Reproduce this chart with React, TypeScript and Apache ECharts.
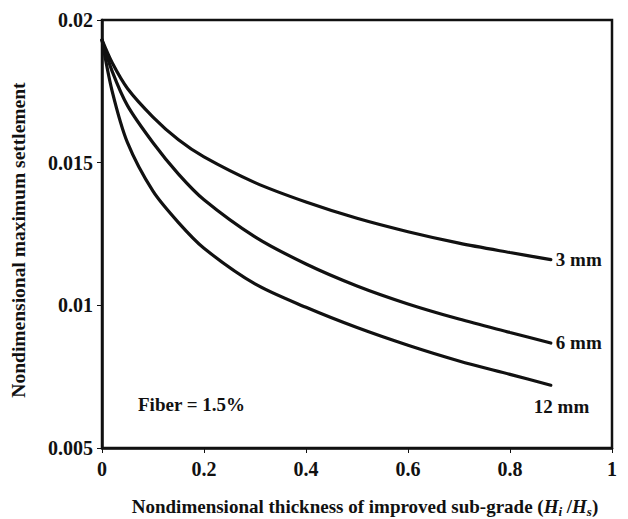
import React, { useEffect, useRef } from "react";
import * as echarts from "echarts";

// Nondimensional thickness of improved sub-grade (Hi/Hs)
const thickness = [0, 0.02, 0.05, 0.1, 0.15, 0.2, 0.3, 0.4, 0.5, 0.6, 0.7, 0.8, 0.88];

// Nondimensional maximum settlement per fiber length (Fiber = 1.5%)
const settlement3mm = [0.0193, 0.0185, 0.0176, 0.0166, 0.0158, 0.0152, 0.0143, 0.01362, 0.01305, 0.01258, 0.01218, 0.01185, 0.0116];
const settlement6mm = [0.0193, 0.0182, 0.017, 0.0157, 0.0146, 0.0137, 0.0124, 0.01145, 0.01068, 0.01005, 0.00952, 0.00905, 0.00868];
const settlement12mm = [0.0193, 0.0175, 0.0157, 0.014, 0.0129, 0.012, 0.01075, 0.00993, 0.00922, 0.0086, 0.00805, 0.00758, 0.0072];

const seriesNames = ["3 mm", "6 mm", "12 mm"];
const xTicks = [0, 0.2, 0.4, 0.6, 0.8, 1];
const yTicks = [0.005, 0.01, 0.015, 0.02];

const FONT = "'Liberation Serif', 'Times New Roman', serif";
const INK = "#111";

export default function App() {
  const ref = useRef<HTMLDivElement>(null);

  useEffect(() => {
    if (!ref.current) return;
    const chart = echarts.init(ref.current, null, { renderer: "svg" });

    const pairs = (ys: number[]) => thickness.map((x, i) => [x, ys[i]]);
    const curves = [settlement3mm, settlement6mm, settlement12mm];
    const labelOffsets: [number, number][] = [[0, 0], [0, 0], [-22, 21]];

    chart.setOption({
      animation: false,
      backgroundColor: "#fff",
      grid: {
        left: 102,
        right: 16,
        top: 20,
        bottom: 71,
        show: true,
        borderColor: INK,
        borderWidth: 2.5,
      },
      xAxis: {
        type: "value",
        min: xTicks[0],
        max: xTicks[xTicks.length - 1],
        interval: 0.2,
        axisLine: { show: true, lineStyle: { color: INK, width: 2.5 } },
        axisTick: { show: true, inside: false, length: 5, lineStyle: { color: INK, width: 1 } },
        splitLine: { show: false },
        axisLabel: {
          margin: 11,
          color: INK,
          fontFamily: FONT,
          fontWeight: "bold",
          fontSize: 20,
          formatter: (v: number) => String(+v.toFixed(2)),
        },
      },
      yAxis: {
        type: "value",
        min: yTicks[0],
        max: yTicks[yTicks.length - 1],
        interval: 0.005,
        axisLine: { show: true, lineStyle: { color: INK, width: 2.5 } },
        axisTick: { show: true, inside: false, length: 5, lineStyle: { color: INK, width: 1 } },
        splitLine: { show: false },
        axisLabel: {
          margin: 9,
          color: INK,
          fontFamily: FONT,
          fontWeight: "bold",
          fontSize: 20,
          formatter: (v: number) => String(+v.toFixed(3)),
        },
      },
      series: curves.map((ys, i) => ({
        name: seriesNames[i],
        type: "line",
        data: pairs(ys),
        smooth: 0.3,
        showSymbol: false,
        symbol: "none",
        lineStyle: { color: INK, width: 3.2, cap: "round" },
        endLabel: {
          show: true,
          formatter: seriesNames[i],
          color: INK,
          fontFamily: FONT,
          fontWeight: "bold",
          fontSize: 19,
          distance: 5,
          offset: labelOffsets[i],
        },
      })),
      graphic: [
        {
          type: "text",
          left: 138,
          top: 395,
          style: {
            text: "Fiber = 1.5%",
            fill: INK,
            font: `bold 19px ${FONT}`,
          },
        },
        {
          type: "text",
          x: 365,
          y: 506,
          style: {
            text: "{b|Nondimensional thickness of improved sub-grade (}{i|H}{s|i}{b| /}{i|H}{s|s}{b|)}",
            align: "center",
            verticalAlign: "middle",
            rich: {
              b: { fontFamily: FONT, fontWeight: "bold", fontSize: 19, fill: INK, lineHeight: 22 },
              i: { fontFamily: FONT, fontWeight: "bold", fontStyle: "italic", fontSize: 19, fill: INK, lineHeight: 22 },
              s: {
                fontFamily: FONT,
                fontWeight: "bold",
                fontStyle: "italic",
                fontSize: 13,
                fill: INK,
                lineHeight: 22,
                padding: [10, 0, 0, 0],
              },
            },
          },
        },
        {
          type: "text",
          x: 18,
          y: 240,
          rotation: Math.PI / 2,
          style: {
            text: "Nondimensional maximum settlement",
            align: "center",
            verticalAlign: "middle",
            fill: INK,
            font: `bold 19.5px ${FONT}`,
          },
        },
      ],
    });

    return () => chart.dispose();
  }, []);

  return (
    <div
      ref={ref}
      style={{ position: "fixed", left: 0, top: 0, width: 628, height: 519, background: "#fff" }}
    />
  );
}
